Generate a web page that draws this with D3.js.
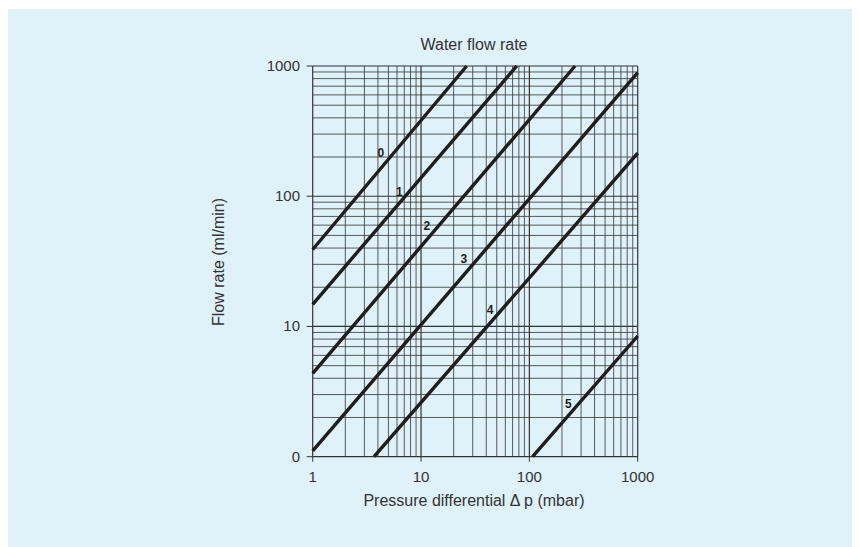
<!DOCTYPE html>
<html lang="en">
<head>
  <meta charset="UTF-8">
  <title>Water flow rate</title>
  <script src="https://d3js.org/d3.v7.min.js"></script>
  <style>
    body { margin: 0; background: #fff; }
    text { font-family: "Liberation Sans", Arial, sans-serif; fill: #333; }
    .grid line { stroke: #333; }
    .curve { fill: none; stroke: #1e1e1e; stroke-width: 3.4; }
    .tick-label { font-size: 15px; }
    .curve-label { font-size: 12px; font-weight: bold; fill: #1e1e1e; }
  </style>
</head>
<body>
  <div id="chart"></div>
  <script>
    // nozzle curves, read at their two ends: [pressure mbar, flow ml/min]
    const curveNames = ["0", "1", "2", "3", "4", "5"];
    const curveStart = [[1, 39], [1, 14.8], [1, 4.37], [1, 1.11], [3.68, 1], [107, 1]];
    const curveEnd = [[26.4, 1000], [76.5, 1000], [264, 1000], [1000, 890], [1000, 214], [1000, 8.45]];
    // label positions in data units
    const labelPos = [[4.25, 210], [6.3, 107], [11.3, 58.4], [24.9, 32.4], [43.4, 13.2], [229, 2.49]];

    const xTicks = [1, 10, 100, 1000];
    const xTickLabels = ["1", "10", "100", "1000"];
    const yTicks = [1, 10, 100, 1000];
    const yTickLabels = ["0", "10", "100", "1000"];

    const W = 859, H = 547;
    const svg = d3.select("#chart").append("svg")
      .attr("width", W).attr("height", H);

    svg.append("rect")
      .attr("x", 8).attr("y", 9)
      .attr("width", 844).attr("height", H - 9)
      .attr("fill", "#dff1f9");

    const x = d3.scaleLog().domain([1, 1000]).range([312.7, 637.7]);
    const y = d3.scaleLog().domain([1, 1000]).range([456.7, 66]);

    // log grid values 1,2..9,10,20..
    const gridVals = [];
    for (let dec = 1; dec < 1000; dec *= 10) {
      for (let k = 1; k < 10; k++) gridVals.push(k * dec);
    }
    gridVals.push(1000);

    const grid = svg.append("g").attr("class", "grid");
    grid.selectAll(".v").data(gridVals).enter().append("line")
      .attr("class", "v")
      .attr("x1", d => x(d)).attr("x2", d => x(d))
      .attr("y1", y(1000)).attr("y2", y(1))
      .attr("stroke-width", d => xTicks.includes(d) ? 1.2 : 0.8);
    grid.selectAll(".h").data(gridVals).enter().append("line")
      .attr("class", "h")
      .attr("y1", d => y(d)).attr("y2", d => y(d))
      .attr("x1", x(1)).attr("x2", x(1000))
      .attr("stroke-width", d => yTicks.includes(d) ? 1.2 : 0.8);

    // small tick stubs outside
    grid.selectAll(".yt").data(yTicks).enter().append("line")
      .attr("x1", x(1) - 6).attr("x2", x(1))
      .attr("y1", d => y(d)).attr("y2", d => y(d));
    grid.selectAll(".xt").data(xTicks).enter().append("line")
      .attr("x1", d => x(d)).attr("x2", d => x(d))
      .attr("y1", y(1)).attr("y2", y(1) + 5);

    // curves
    const line = d3.line().x(d => x(d[0])).y(d => y(d[1]));
    svg.selectAll(".curve").data(curveNames).enter().append("path")
      .attr("class", "curve")
      .attr("d", (d, i) => line([curveStart[i], curveEnd[i]]));

    svg.selectAll(".curve-label").data(curveNames).enter().append("text")
      .attr("class", "curve-label")
      .attr("x", (d, i) => x(labelPos[i][0]))
      .attr("y", (d, i) => y(labelPos[i][1]))
      .attr("text-anchor", "middle")
      .attr("dominant-baseline", "middle")
      .text(d => d);

    // tick labels
    svg.selectAll(".xl").data(xTicks).enter().append("text")
      .attr("class", "tick-label")
      .attr("x", d => x(d)).attr("y", y(1) + 25)
      .attr("text-anchor", "middle")
      .text((d, i) => xTickLabels[i]);
    svg.selectAll(".yl").data(yTicks).enter().append("text")
      .attr("class", "tick-label")
      .attr("x", 300).attr("y", d => y(d) + 5)
      .attr("text-anchor", "end")
      .text((d, i) => yTickLabels[i]);

    svg.append("text")
      .attr("x", 474).attr("y", 50)
      .attr("text-anchor", "middle")
      .style("font-size", "16px")
      .text("Water flow rate");

    svg.append("text")
      .attr("x", 474).attr("y", 506)
      .attr("text-anchor", "middle")
      .style("font-size", "16px")
      .text("Pressure differential \u0394 p (mbar)");

    svg.append("text")
      .attr("transform", "translate(224,262) rotate(-90)")
      .attr("text-anchor", "middle")
      .style("font-size", "16px")
      .text("Flow rate (ml/min)");
  </script>
</body>
</html>
